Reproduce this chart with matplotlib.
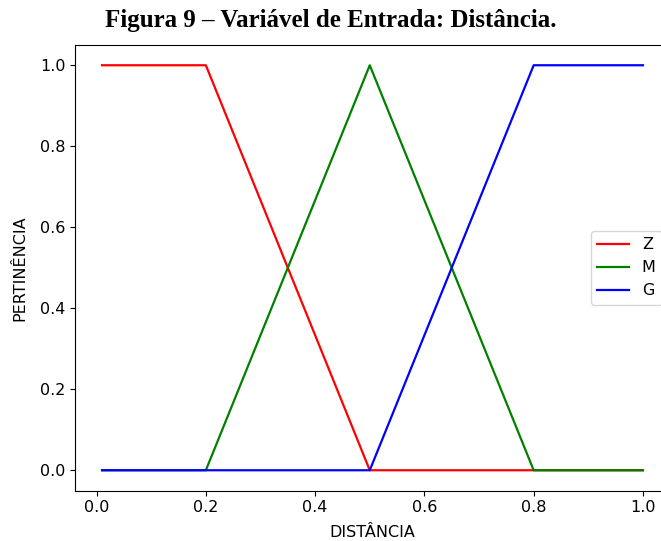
import matplotlib
matplotlib.use("Agg")
import matplotlib.pyplot as plt

# membership functions for the input variable "distância"
x_z = [0.01, 0.2, 0.5, 1.0]
y_z = [1.0, 1.0, 0.0, 0.0]

x_m = [0.01, 0.2, 0.5, 0.8, 1.0]
y_m = [0.0, 0.0, 1.0, 0.0, 0.0]

x_g = [0.01, 0.5, 0.8, 1.0]
y_g = [0.0, 0.0, 1.0, 1.0]

plt.rcParams["font.size"] = 11.5

fig = plt.figure(figsize=(6.61, 5.41), dpi=100)
# axes runs a bit past the right edge, like the cropped original
ax = fig.add_axes([75 / 661, 1 - 490.5 / 541, 595 / 661, 445.5 / 541])

ax.plot(x_z, y_z, color="red", linewidth=1.6, label="Z")
ax.plot(x_m, y_m, color="green", linewidth=1.6, label="M")
ax.plot(x_g, y_g, color="blue", linewidth=1.6, label="G")

ax.set_xlabel("DISTÂNCIA", labelpad=7)
ax.set_ylabel("PERTINÊNCIA", labelpad=9)
ax.legend(loc="center right")

fig.text(0.5, 1 - 21 / 541, "Figura 9 – Variável de Entrada: Distância.",
         ha="center", va="center", family="Liberation Serif",
         fontweight="bold", fontsize=18)

fig.savefig("out.png", dpi=100)
